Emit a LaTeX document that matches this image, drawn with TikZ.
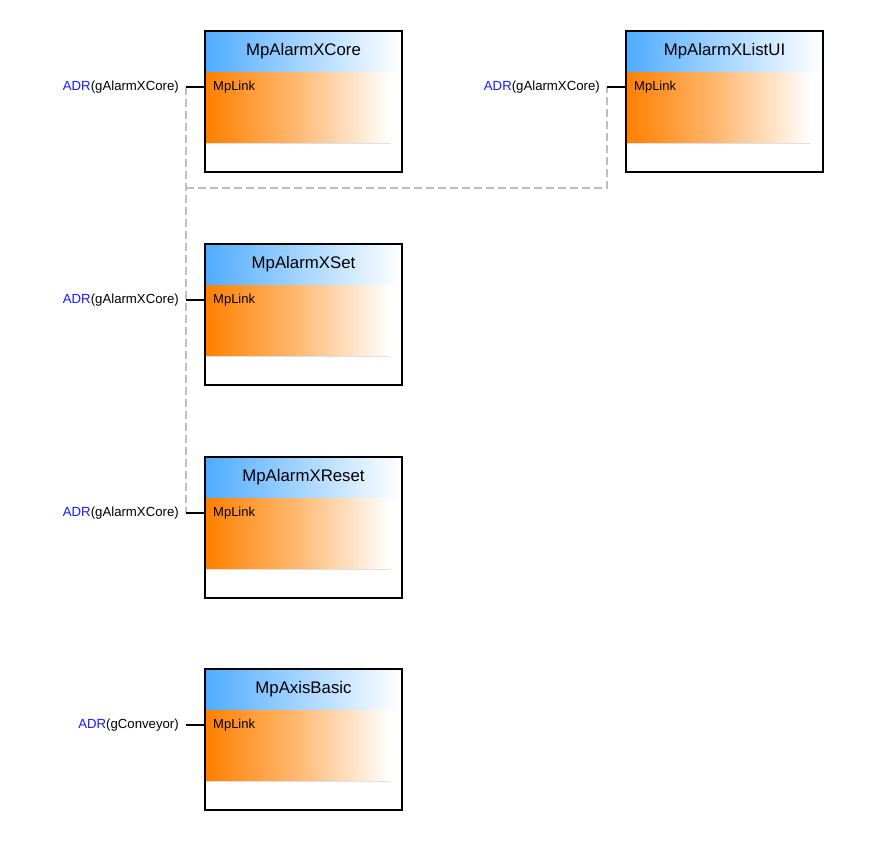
\documentclass[tikz,border=0pt]{standalone}
\usepackage{fontspec}
\setmainfont{Liberation Sans}
\usetikzlibrary{calc}
\definecolor{hdrblue}{RGB}{80,172,255}
\definecolor{mporange}{RGB}{255,128,0}
\definecolor{adrblue}{RGB}{25,25,255}
\definecolor{busgray}{RGB}{190,190,190}
\tikzset{
  blkframe/.style={minimum width=197pt, minimum height=141pt, inner sep=0pt, outer sep=0pt},
  frameline/.style={draw=black, line width=1.8pt},
  hdrshade/.style={left color=hdrblue, right color=white},
  orgshade/.style={left color=mporange, right color=white, middle color=mporange!55!white},
  ttl/.style={font=\fontsize{16.8}{18}\selectfont, inner sep=0pt},
  pin/.style={font=\fontsize{13}{14}\selectfont, inner sep=0pt, anchor=west},
  stubline/.style={draw=black, line width=1.6pt},
  lbl/.style={font=\fontsize{13.2}{14}\selectfont, inner sep=0pt, anchor=east},
  bus/.style={draw=busgray, line width=1.8pt, dash pattern=on 8pt off 4pt}
}
\newcommand\mpblk[4]{%
  \path node[blkframe, anchor=north west] (#1) at #2 {};
  \shade[hdrshade] ([shift={(1,1)}]#1.north west) rectangle ([shift={(-1,41)}]#1.north east);
  \shade[orgshade] ([shift={(1,41)}]#1.north west) rectangle ([shift={(-12,112)}]#1.north east);
  \draw[black!12, line width=1pt] ([shift={(1,112.5)}]#1.north west) -- ([shift={(-12,112.5)}]#1.north east);
  \draw[frameline] (#1.north west) rectangle (#1.south east);
  \node[ttl] (#1-title) at ([shift={(0,20)}]#1.north) {#3};
  \node[pin] (#1-pin) at ([shift={(8,56)}]#1.north west) {MpLink};
  \coordinate (#1-in) at ([shift={(0,56)}]#1.north west);
  \coordinate (#1-s) at ([shift={(-19,56)}]#1.north west);
  \node[lbl] (#1-lbl) at ([shift={(-7,0)}]#1-s) {\textcolor{adrblue}{ADR}(#4)};
}
\begin{document}
\begin{tikzpicture}[x=1pt,y=-1pt]
\useasboundingbox[fill=white] (0,0) rectangle (876,841);
\coordinate (busy) at (0,188);
\mpblk{core}{(205,31)}{MpAlarmXCore}{gAlarmXCore}
\mpblk{listui}{(626,31)}{MpAlarmXListUI}{gAlarmXCore}
\mpblk{set}{(205,244)}{MpAlarmXSet}{gAlarmXCore}
\mpblk{reset}{(205,457)}{MpAlarmXReset}{gAlarmXCore}
\mpblk{axis}{(205,669)}{MpAxisBasic}{gConveyor}
\draw[bus] (core-s) -- (reset-s);
\draw[bus] (core-s |- busy) -- (listui-s |- busy) -- (listui-s);
\draw[stubline] (core-in) -- (core-s);
\draw[stubline] (set-in) -- (set-s);
\draw[stubline] (reset-in) -- (reset-s);
\draw[stubline] (listui-in) -- (listui-s);
\draw[stubline] (axis-in) -- (axis-s);
\end{tikzpicture}
\end{document}
